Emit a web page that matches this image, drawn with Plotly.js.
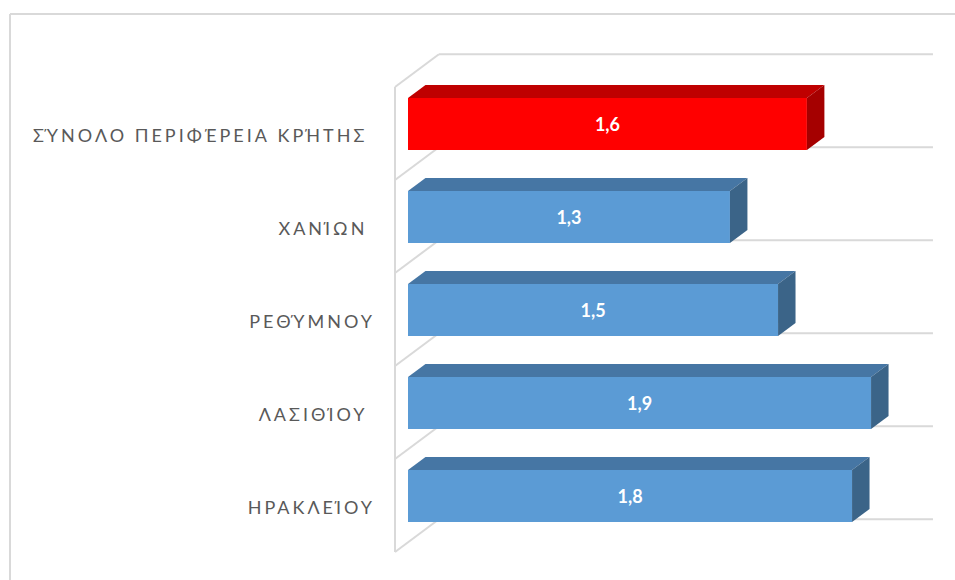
<!DOCTYPE html>
<html><head><meta charset="utf-8">
<script src="https://cdn.plot.ly/plotly-3.0.1.min.js"></script>
<style>
html,body{margin:0;padding:0;background:#fff}
#chart{width:955px;height:580px}
.ytick text{letter-spacing:3px}
</style></head><body><div id="chart"></div>
<script>
// Bottom-to-top order, as the horizontal axis stacks them
const categories = ['ΗΡΑΚΛΕΊΟΥ','ΛΑΣΙΘΊΟΥ\u00a0','ΡΕΘΎΜΝΟΥ','ΧΑΝΊΩΝ\u00a0','ΣΎΝΟΛΟ ΠΕΡΙΦΈΡΕΙΑ ΚΡΉΤΗΣ\u00a0'];
const values = [1.80, 1.877, 1.50, 1.305, 1.617];
const frontColors = ['#5B9BD5','#5B9BD5','#5B9BD5','#5B9BD5','#FF0000'];
const topColors   = ['#4676A4','#4676A4','#4676A4','#4676A4','#BF0000'];
const sideColors  = ['#3B6488','#3B6488','#3B6488','#3B6488','#A50000'];

const positions = categories.map((_, i) => i);
const barWidth = 0.56;
const barDepthX = 0.0709, barDepthY = 0.14;
const wallDepthX = 0.178, wallDepthY = 0.352;
const wallLeft = -0.0527, valueMax = 2.128;
const slotLow = -0.602;

const traces = [{
  type:'bar', orientation:'h', x:values, y:positions, width:barWidth,
  marker:{color:frontColors, line:{width:0}},
  texttemplate:'%{x:.1f}', textposition:'inside', insidetextanchor:'middle', constraintext:'none',
  textangle:0,
  textfont:{family:'Lato, "Open Sans", sans-serif', size:18, color:'#fff', weight:700},
  hoverinfo:'skip', showlegend:false
}];
positions.forEach((p, i) => {
  const v = values[i], lo = p - barWidth/2, hi = p + barWidth/2;
  traces.push({
    type:'scatter', mode:'lines', fill:'toself', fillcolor:topColors[i], line:{width:0},
    x:[0, v, v+barDepthX, barDepthX, 0], y:[hi, hi, hi+barDepthY, hi+barDepthY, hi],
    hoverinfo:'skip', showlegend:false
  });
  traces.push({
    type:'scatter', mode:'lines', fill:'toself', fillcolor:sideColors[i], line:{width:0},
    x:[v, v+barDepthX, v+barDepthX, v, v], y:[hi, hi+barDepthY, lo+barDepthY, lo, hi],
    hoverinfo:'skip', showlegend:false
  });
});

const gridLine = {color:'#D9D9D9', width:2};
const shapes = [];
for (let k = 0; k <= categories.length; k++) {
  const y = slotLow + k;
  shapes.push({type:'line', layer:'below', xref:'x', yref:'y', x0:wallLeft, y0:y, x1:wallLeft+wallDepthX, y1:y+wallDepthY, line:gridLine});
  shapes.push({type:'line', layer:'below', xref:'x', yref:'y', x0:wallLeft+wallDepthX, y0:y+wallDepthY, x1:valueMax, y1:y+wallDepthY, line:gridLine});
}
shapes.push({type:'line', layer:'below', xref:'x', yref:'y', x0:wallLeft, y0:slotLow, x1:wallLeft, y1:slotLow+categories.length, line:gridLine});

// chart-area frame: top and left edges only
const frame = {color:'#D9D9D9', width:2};
shapes.push({type:'line', layer:'below', xref:'paper', yref:'paper', x0:-0.6607, y0:1.0602, x1:1.03, y1:1.0602, line:frame});
shapes.push({type:'line', layer:'below', xref:'paper', yref:'paper', x0:-0.6607, y0:1.0602, x1:-0.6607, y1:-0.04, line:frame});

const layout = {
  width:955, height:580, autosize:false,
  margin:{l:380, r:15, t:45, b:20},
  paper_bgcolor:'#fff', plot_bgcolor:'rgba(0,0,0,0)',
  separators:',.',
  showlegend:false,
  xaxis:{range:[-0.1135, 2.1565], visible:false, fixedrange:true},
  yaxis:{range:[-0.688, 4.849], tickmode:'array', tickvals:positions, ticktext:categories,
    showgrid:false, zeroline:false, showline:false, ticks:'',
    ticklabelstandoff:4, ticklabelshift:12,
    tickfont:{family:'Lato, "Open Sans", sans-serif', size:18, color:'#595959'},
    fixedrange:true},
  shapes:shapes
};
Plotly.newPlot('chart', traces, layout, {displayModeBar:false, staticPlot:true});
</script></body></html>
